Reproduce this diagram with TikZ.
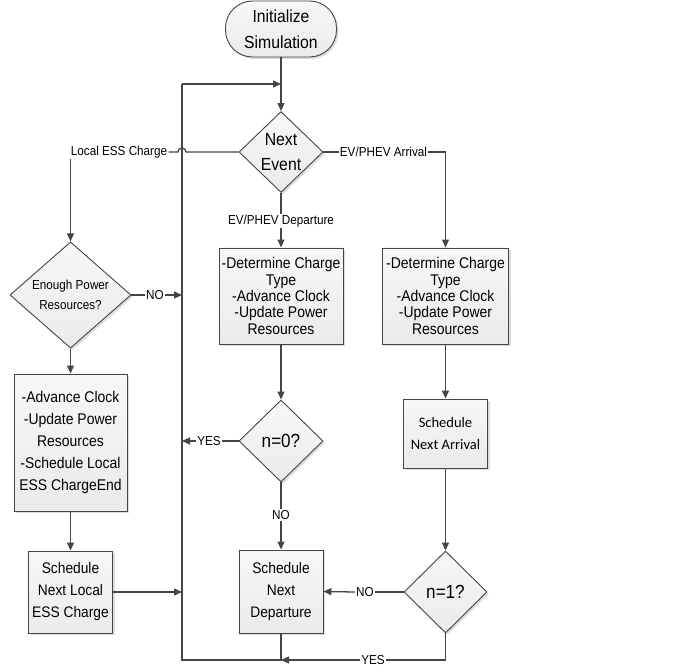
\documentclass[tikz,border=0pt]{standalone}
\usepackage{fontspec}
\setmainfont[FakeStretch=0.9]{Liberation Sans}
\newfontfamily\calib{Carlito}
\usetikzlibrary{shapes.geometric,shadows,arrows.meta,calc}
\definecolor{ln}{HTML}{454545}
\begin{document}
\begin{tikzpicture}[x=1pt,y=-1pt,
  conn/.style={draw=ln,line width=1.3pt},
  arr/.style={conn,-{Triangle[length=8pt,width=7pt]}},
  boxfill/.style={top color=gray!6,bottom color=gray!16,draw=ln,line width=0.9pt,
    drop shadow={shadow xshift=2pt,shadow yshift=-2pt,fill=gray!45,opacity=0.6}},
  procbox/.style={boxfill,rectangle,inner sep=0pt,align=center},
  decide/.style={boxfill,diamond,inner sep=0pt,align=center},
  lbl/.style={fill=white,inner sep=1.2pt,font=\fontsize{13}{15}\selectfont},
  f15/.style={font=\fontsize{15.5}{16.3}\selectfont},
  f15w/.style={font=\fontsize{15.5}{21.8}\selectfont}]
\useasboundingbox (0,0) rectangle (683,668);
% nodes
\node[procbox,rounded corners=27pt,minimum width=111pt,minimum height=56pt,
  font=\fontsize{17.5}{25.7}\selectfont] (start) at (281,29) {Initialize\\Simulation};
\node[decide,minimum width=84pt,minimum height=81pt,
  font=\fontsize{17.5}{25}\selectfont] (ne) at (281,152) {Next\\Event};
\node[procbox,f15,minimum width=124pt,minimum height=96pt] (mbox) at (281,296)
  {-Determine Charge\\Type\\-Advance Clock\\-Update Power\\Resources};
\node[procbox,f15,minimum width=126pt,minimum height=96pt] (rbox) at (445.5,296)
  {-Determine Charge\\Type\\-Advance Clock\\-Update Power\\Resources};
\node[decide,minimum width=84pt,minimum height=82pt,
  font=\fontsize{19}{22}\selectfont] (n0) at (281,441) {n=0?};
\node[procbox,minimum width=84pt,minimum height=83pt,
  font=\fontsize{15.3}{22}\selectfont] (sdep) at (281,591.5) {Schedule\\Next\\Departure};
\node[procbox,minimum width=84pt,minimum height=69pt,
  font=\calib\fontsize{14.5}{22}\selectfont] (sarr) at (445.5,433.5) {Schedule\\Next Arrival};
\node[decide,minimum width=83pt,minimum height=82pt,
  font=\fontsize{19}{22}\selectfont] (n1) at (445.5,592) {n=1?};
\node[decide,minimum width=121pt,minimum height=98pt,
  font=\fontsize{13}{20}\selectfont] (ep) at (70.5,295) {Enough Power\\Resources?};
\node[procbox,f15w,minimum width=113pt,minimum height=137pt] (lbox) at (70.5,442.5)
  {-Advance Clock\\-Update Power\\Resources\\-Schedule Local\\ESS ChargeEnd};
\node[procbox,minimum width=84pt,minimum height=82pt,
  font=\fontsize{15.3}{22}\selectfont] (sloc) at (70.5,592) {Schedule\\Next Local\\ESS Charge};
% coordinates of the loop line
\coordinate (tl) at (182,84);
\coordinate (tr) at (281,84);
\coordinate (bl) at (182,660);
\coordinate (v1) at (182,295);
\coordinate (v2) at (182,441);
\coordinate (v3) at (182,592);
% labels
\node[lbl,anchor=west] (lesc) at (69.5,152) {Local ESS Charge};
\node[lbl] (arrl) at (383.5,152) {EV/PHEV Arrival};
\node[lbl] (depl) at (281,221) {EV/PHEV Departure};
\node[lbl] (no1) at (155,295) {NO};
\node[lbl] (yes0) at (209,441) {YES};
\node[lbl] (no0) at (281,515) {NO};
\node[lbl] (no2) at (365,592) {NO};
\node[lbl] (yes1) at (373,660) {YES};
% connectors
\draw[arr] (start.south) -- (ne.north);
\draw[conn] (sdep.south) |- (bl) -- (tl);
\draw[arr] (tl) -- (tr);
\draw[conn] (ne.west) -- ($(tl |- ne.west)+(4,0)$) arc[start angle=0,end angle=180,radius=4pt] -- (lesc.east);
\draw[arr] (ep.north |- lesc.south) -- (ep.north);
\draw[conn] (ne.east) -- (arrl.west);
\draw[arr] (arrl.east) -| (rbox.north);
\draw[conn] (ne.south) -- (depl.north);
\draw[arr] (depl.south) -- (mbox.north);
\draw[conn] (ep.east) -- (no1.west);
\draw[arr] (no1.east) -- (v1);
\draw[arr] (ep.south) -- (lbox.north);
\draw[arr] (lbox.south) -- (sloc.north);
\draw[arr] (sloc.east) -- (v3);
\draw[arr] (mbox.south) -- (n0.north);
\draw[conn] (n0.west) -- (yes0.east);
\draw[arr] (yes0.west) -- (v2);
\draw[conn] (n0.south) -- (no0.north);
\draw[arr] (no0.south) -- (sdep.north);
\draw[arr] (rbox.south) -- (sarr.north);
\draw[arr] (sarr.south) -- (n1.north);
\draw[conn] (n1.west) -- (no2.east);
\draw[arr] (no2.west) -- (sdep.east);
\draw[conn] (n1.south) |- (yes1.east);
\draw[arr] (yes1.west) -- (sdep.south |- bl);
\end{tikzpicture}
\end{document}
